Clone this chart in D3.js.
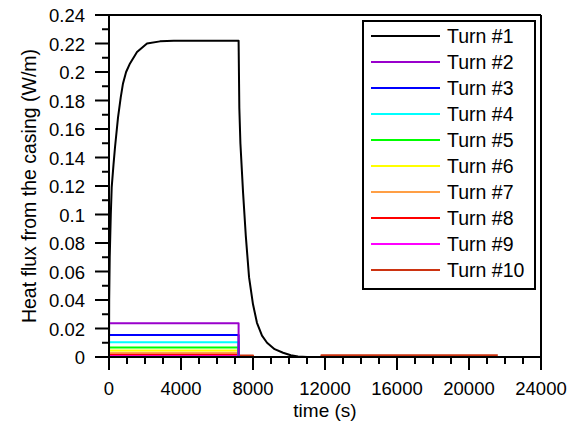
<!DOCTYPE html>
<html><head><meta charset="utf-8">
<script src="https://cdn.jsdelivr.net/npm/d3@7/dist/d3.min.js"></script>
<style>body{margin:0;background:#fff}svg{display:block}text{font-family:"Liberation Sans",Arial,sans-serif}</style>
</head><body><svg id="c" width="568" height="423"></svg>
<script>
const seriesNames = ["Turn #1","Turn #2","Turn #3","Turn #4","Turn #5","Turn #6","Turn #7","Turn #8","Turn #9","Turn #10"];
const seriesColors = ["#000000","#9900cc","#0000ff","#00ffff","#00ff00","#ffff00","#ff9f45","#ff0000","#ff00ff","#cc3311"];
const turn1Time = [0,10,40,100,150,250,333,500,650,778,950,1167,1556,2111,2833,3600,7200,7240,7300,7450,7600,7780,8000,8220,8500,8780,9200,9670,10100,10500,11000,21600];
const turn1Flux = [0,0.04,0.07,0.1,0.119,0.135,0.147,0.168,0.182,0.192,0.2,0.206,0.214,0.22,0.2215,0.222,0.222,0.175,0.15,0.115,0.085,0.056,0.037,0.024,0.015,0.01,0.0055,0.003,0.0012,0.0004,0,0];
const stepTime = [0,0,7200,21600];
const turn2Flux = [0,0.0237,0,0];
const turn3Flux = [0,0.0154,0,0];
const turn4Flux = [0,0.0103,0,0];
const turn5Flux = [0,0.0066,0,0];
const turn6Flux = [0,0.0045,0,0];
const turn7Flux = [0,0.003,0,0];
const turn8Flux = [0,0.002,0,0];
const turn9Flux = [0,0.0013,0,0];
const turn10Time = [0,0,7200,8000,11800,21600];
const turn10Flux = [0,0.0009,0.001,0,0.0012,0.0012];
const xTicks = [0,4000,8000,12000,16000,20000,24000];
const yTicks = [0,0.02,0.04,0.06,0.08,0.1,0.12,0.14,0.16,0.18,0.2,0.22,0.24];

const svg = d3.select("#c");
const L=109,R=541,T=15,B=357;
const x = d3.scaleLinear().domain([0,24000]).range([L,R]);
const y = d3.scaleLinear().domain([0,0.24]).range([B,T]);

const series = [
  {t:turn1Time, v:turn1Flux, step:false},
  {t:stepTime, v:turn2Flux, step:true},
  {t:stepTime, v:turn3Flux, step:true},
  {t:stepTime, v:turn4Flux, step:true},
  {t:stepTime, v:turn5Flux, step:true},
  {t:stepTime, v:turn6Flux, step:true},
  {t:stepTime, v:turn7Flux, step:true},
  {t:stepTime, v:turn8Flux, step:true},
  {t:stepTime, v:turn9Flux, step:true},
  {t:turn10Time, v:turn10Flux, step:true}
];
series.forEach((s,i)=>{s.color=seriesColors[i];s.name=seriesNames[i];});

const g = svg.append("g");
const order = [9,8,7,6,5,4,3,2,0,1];
order.forEach(i=>{
  const s = series[i];
  const pts = s.t.map((t,k)=>[t,s.v[k]]);
  const line = d3.line().x(d=>x(d[0])).y(d=>y(d[1])).curve(s.step?d3.curveStepAfter:d3.curveLinear);
  g.append("path").attr("d",line(pts)).attr("fill","none").attr("stroke",s.color).attr("stroke-width",2).attr("stroke-linejoin","round");
});

// frame top & right
svg.append("line").attr("x1",L).attr("x2",R).attr("y1",T).attr("y2",T).attr("stroke","#000").attr("stroke-width",2);
svg.append("line").attr("x1",R).attr("x2",R).attr("y1",T).attr("y2",B).attr("stroke","#000").attr("stroke-width",2);

// x axis
const xAxis = svg.append("g").attr("transform",`translate(0,${B})`);
xAxis.append("line").attr("x1",L).attr("x2",R).attr("stroke","#000").attr("stroke-width",2);
d3.range(0,24001,1000).forEach(v=>{
  const major = v%4000===0;
  xAxis.append("line").attr("x1",x(v)).attr("x2",x(v)).attr("y1",0).attr("y2",major?13:7).attr("stroke","#000").attr("stroke-width",2);
});
xAxis.selectAll("text.tl").data(xTicks).join("text").attr("x",d=>x(d)).attr("y",38).attr("text-anchor","middle").attr("font-size",18.5).text(d=>d);
svg.append("text").attr("x",(L+R)/2).attr("y",417).attr("text-anchor","middle").attr("font-size",19).text("time (s)");

// y axis
const yAxis = svg.append("g").attr("transform",`translate(${L},0)`);
yAxis.append("line").attr("y1",T).attr("y2",B).attr("stroke","#000").attr("stroke-width",2);
d3.range(0,25).forEach(k=>{
  const v = k*0.01;
  const major = k%2===0;
  yAxis.append("line").attr("x1",0).attr("x2",major?-14:-7).attr("y1",y(v)).attr("y2",y(v)).attr("stroke","#000").attr("stroke-width",2);
});
yAxis.selectAll("text.tl").data(yTicks).join("text").attr("x",-24).attr("y",d=>y(d)+7).attr("text-anchor","end").attr("font-size",18.5).text(d=>d3.format("~g")(d));
svg.append("text").attr("transform",`translate(36,${(T+B)/2}) rotate(-90)`).attr("text-anchor","middle").attr("font-size",19.5).text("Heat flux from the casing (W/m)");

// legend
const lg = svg.append("g");
lg.append("rect").attr("x",363).attr("y",21).attr("width",172).attr("height",268).attr("fill","#fff").attr("stroke","#000").attr("stroke-width",2);
series.forEach((s,i)=>{
  const cy = 36 + i*26;
  lg.append("line").attr("x1",371).attr("x2",440).attr("y1",cy).attr("y2",cy).attr("stroke",s.color).attr("stroke-width",2);
  lg.append("text").attr("x",447).attr("y",cy+7).attr("font-size",19.5).text(s.name);
});
</script></body></html>
